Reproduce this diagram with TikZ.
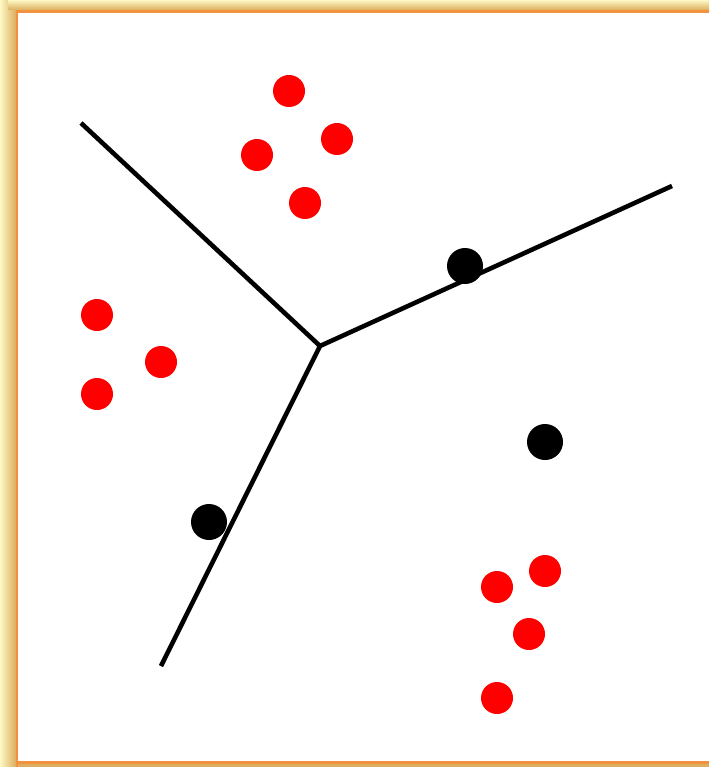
\documentclass[tikz,border=0pt]{standalone}
\usepackage{tikz}
\usetikzlibrary{positioning}
\definecolor{framepale}{HTML}{FDF8C4}
\definecolor{framegold}{HTML}{DDAE5E}
\definecolor{frameline}{HTML}{F2923E}

\begin{document}
\begin{tikzpicture}[x=1pt, y=-1pt,
  sample/.style={circle, fill=red, inner sep=0pt, minimum size=32pt},
  centre/.style={circle, fill=black, inner sep=0pt, minimum size=36pt},
  border/.style={line width=4.5pt, black},
  bordershadow/.style={line width=5pt, black!12, xshift=1.5pt, yshift=-2pt}
]
\useasboundingbox (0,0) rectangle (709,767);
% frame
\shade[left color=framepale, right color=framegold] (0,0) rectangle (16,767);
\shade[top color=framepale, bottom color=framegold] (8,0) rectangle (709,10);
\fill[framegold] (16,764) rectangle (709,767);
\draw[frameline, line width=2.5pt] (17,767) -- (17,11.5) -- (709,11.5);
\draw[frameline, line width=2.5pt] (17,762.5) -- (709,762.5);

% decision boundaries
\coordinate (mid) at (320,346);
\coordinate (nw) at (81,123);
\coordinate (ne) at (672,186);
\coordinate (sw) at (161,666);
\draw[bordershadow] (nw) -- (mid) -- (ne) (mid) -- (sw);
\draw[border] (nw) -- (mid);
\draw[border] (ne) -- (mid);
\draw[border] (sw) -- (mid);

% cluster top
\node[sample] (a1) at (289,91) {};
\node[sample] (a2) at (337,139) {};
\node[sample] (a3) at (257,155) {};
\node[sample] (a4) at (305,203) {};
% cluster left
\node[sample] (b1) at (97,315) {};
\node[sample] (b2) at (161,362) {};
\node[sample] (b3) at (97,394) {};
% cluster bottom right
\node[sample] (c1) at (545,571) {};
\node[sample] (c2) at (497,587) {};
\node[sample] (c3) at (529,634) {};
\node[sample] (c4) at (497,698) {};

% centroids
\node[centre] (m1) at (465,266) {};
\node[centre] (m2) at (545,442) {};
\node[centre] (m3) at (209,522) {};
\end{tikzpicture}
\end{document}
